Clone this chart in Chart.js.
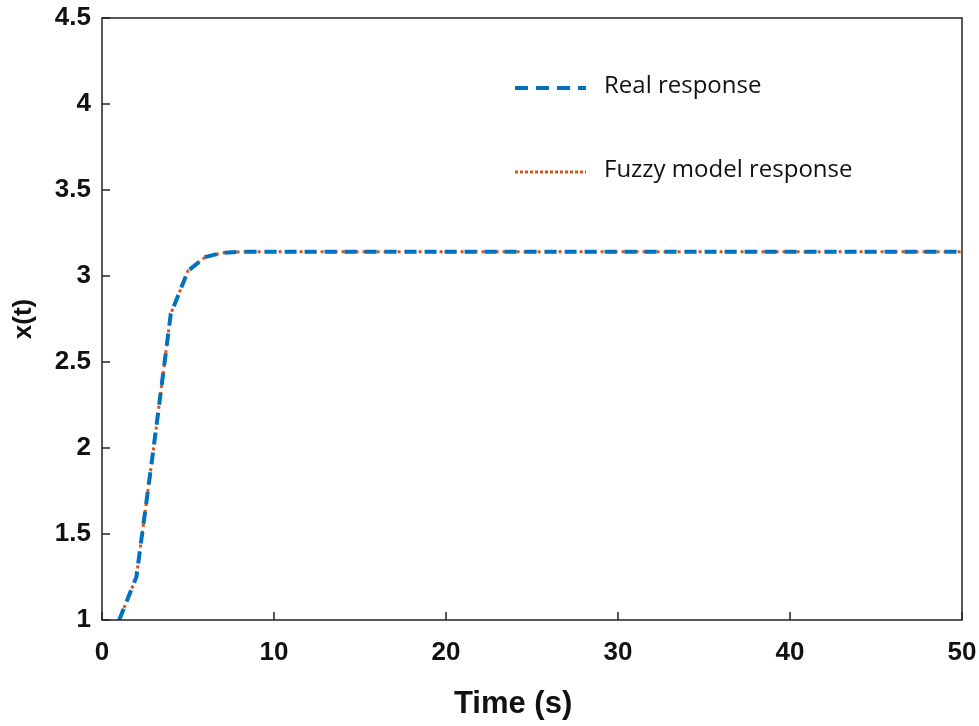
<!DOCTYPE html>
<html>
<head>
<meta charset="utf-8">
<script src="https://cdn.jsdelivr.net/npm/chart.js@4/dist/chart.umd.min.js"></script>
<style>
  html, body { margin: 0; padding: 0; background: #fff; }
  #wrap { width: 979px; height: 726px; }
</style>
</head>
<body>
<div id="wrap"><canvas id="grafico"></canvas></div>
<script>
// dados
const tempo = [1, 2, 3, 4, 5, 6, 7, 8, 9, 10, 15, 20, 25, 30, 35, 40, 45, 50];
const real = [1.0, 1.25, 2.0, 2.78, 3.03, 3.11, 3.135, 3.14, 3.141, 3.1416, 3.1416, 3.1416, 3.1416, 3.1416, 3.1416, 3.1416, 3.1416, 3.1416];
const fuzzy = [1.0, 1.25, 2.0, 2.78, 3.03, 3.11, 3.135, 3.14, 3.141, 3.1416, 3.1416, 3.1416, 3.1416, 3.1416, 3.1416, 3.1416, 3.1416, 3.1416];
const xTicks = [0, 10, 20, 30, 40, 50];
const yTicks = [1, 1.5, 2, 2.5, 3, 3.5, 4, 4.5];

const azul = '#0072BD';
const laranja = '#D95319';
const fonteEixo = 'Liberation Sans, Arial, sans-serif';

function pontos(ys) {
  return tempo.map((t, i) => ({ x: t, y: ys[i] }));
}

// caixa do gráfico + ticks para dentro + legenda + título do eixo x
const caixa = {
  id: 'caixa',
  afterDraw(chart) {
    const { ctx, chartArea: a, scales } = chart;
    ctx.save();
    ctx.strokeStyle = '#222';
    ctx.lineWidth = 1.5;
    ctx.strokeRect(a.left, a.top, a.right - a.left, a.bottom - a.top);
    ctx.beginPath();
    for (const v of xTicks) {
      const px = scales.x.getPixelForValue(v);
      ctx.moveTo(px, a.bottom); ctx.lineTo(px, a.bottom - 8);
    }
    for (const v of yTicks) {
      const py = scales.y.getPixelForValue(v);
      ctx.moveTo(a.left, py); ctx.lineTo(a.left + 8, py);
    }
    ctx.stroke();

    // legenda
    const itens = [
      { txt: 'Real response', cor: azul, dash: [13, 8], lw: 4, y: 88 },
      { txt: 'Fuzzy model response', cor: laranja, dash: [3, 2], lw: 3, y: 172 }
    ];
    ctx.font = '24px "Open Sans", "Noto Sans", sans-serif';
    ctx.textBaseline = 'alphabetic';
    ctx.textAlign = 'left';
    ctx.fillStyle = '#111';
    for (const it of itens) {
      ctx.beginPath();
      ctx.setLineDash(it.dash);
      ctx.strokeStyle = it.cor;
      ctx.lineWidth = it.lw;
      ctx.moveTo(515, it.y); ctx.lineTo(586, it.y);
      ctx.stroke();
      ctx.setLineDash([]);
      ctx.fillText(it.txt, 604, it.y + 5);
    }

    // título do eixo x
    ctx.font = 'bold 31px ' + fonteEixo;
    ctx.textAlign = 'center';
    ctx.textBaseline = 'middle';
    ctx.fillText('Time (s)', a.left + (a.right - a.left) * 0.478, 704);
    ctx.restore();
  }
};

new Chart(document.getElementById('grafico'), {
  type: 'scatter',
  data: {
    datasets: [
      {
        label: 'Real response',
        data: pontos(real),
        showLine: true,
        borderColor: azul,
        borderWidth: 4,
        borderDash: [12, 8],
        pointRadius: 0,
        tension: 0
      },
      {
        label: 'Fuzzy model response',
        data: pontos(fuzzy),
        showLine: true,
        borderColor: laranja,
        borderWidth: 3,
        borderDash: [3, 4],
        borderDashOffset: -13,
        pointRadius: 0,
        tension: 0
      }
    ]
  },
  options: {
    responsive: true,
    maintainAspectRatio: false,
    animation: false,
    layout: { padding: { top: 18, right: 17, left: 0, bottom: 0 } },
    plugins: { legend: { display: false }, tooltip: { enabled: false } },
    scales: {
      x: {
        type: 'linear',
        min: 0, max: 50,
        afterBuildTicks: (s) => { s.ticks = xTicks.map(v => ({ value: v })); },
        afterFit: (s) => { s.height = 106; s.paddingLeft = 0; s.paddingRight = 0; },
        grid: { display: false, drawTicks: false },
        border: { display: false },
        ticks: { color: '#111', padding: 17, font: { family: fonteEixo, weight: 'bold', size: 26 } },
        title: { display: false }
      },
      y: {
        min: 1, max: 4.5,
        afterBuildTicks: (s) => { s.ticks = yTicks.map(v => ({ value: v })); },
        afterFit: (s) => { s.width = 102; s.paddingTop = 0; s.paddingBottom = 0; },
        grid: { display: false, drawTicks: false },
        border: { display: false },
        ticks: {
          color: '#111', padding: 11,
          font: { family: fonteEixo, weight: 'bold', size: 26 },
          callback: (v) => String(v)
        },
        title: { display: true, text: 'x(t)', color: '#111', padding: { top: 8, bottom: 0 }, font: { family: fonteEixo, weight: 'bold', size: 26 } }
      }
    }
  },
  plugins: [caixa]
});
</script>
</body>
</html>
